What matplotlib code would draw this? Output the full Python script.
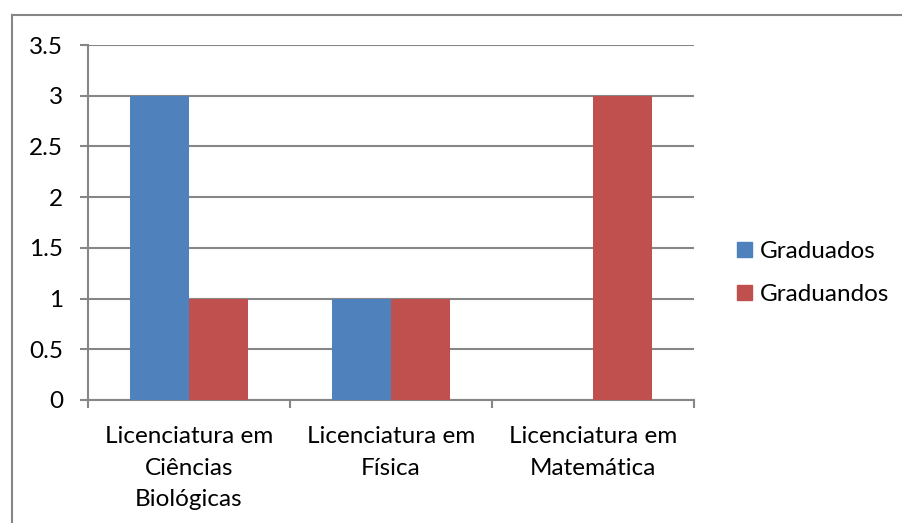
import numpy as np
import matplotlib
matplotlib.use("Agg")
from matplotlib import pyplot as plt
from matplotlib.lines import Line2D
from matplotlib.patches import Patch

categorias = ["Licenciatura em\nCiências\nBiológicas", "Licenciatura em\nFísica", "Licenciatura em\nMatemática"]
graduados = [3, 1, 0]
graduandos = [1, 1, 3]
series = ["Graduados", "Graduandos"]
yticks = [0, 0.5, 1, 1.5, 2, 2.5, 3, 3.5]
ytick_labels = ["0", "0.5", "1", "1.5", "2", "2.5", "3", "3.5"]

azul = "#4F81BD"
vermelho = "#C0504D"
cinza = "#868686"
fs = 17.5

plt.rcParams['font.family'] = ['Lato', 'DejaVu Sans']

fig = plt.figure(figsize=(9.02, 5.23), dpi=100)
ax = fig.add_axes([88/902, 1-400/523, 606/902, 355/523])

x = np.arange(len(categorias))
w = 0.29
ax.bar(x - w/2, graduados, w, color=azul, zorder=3)
ax.bar(x + w/2, graduandos, w, color=vermelho, zorder=3)

ax.set_xlim(-0.5, 2.5)
ax.set_ylim(0, 3.5)
ax.set_yticks(yticks)
ax.set_yticklabels(ytick_labels)
ax.yaxis.grid(True, color=cinza, linewidth=1.5, zorder=0)
for s in ["top", "right"]:
    ax.spines[s].set_visible(False)
for s in ["left", "bottom"]:
    ax.spines[s].set_color(cinza)
    ax.spines[s].set_linewidth(1.5)
ax.tick_params(axis="y", length=6, width=1.5, color=cinza, labelsize=fs, pad=12)
ax.set_xticks(x)
ax.set_xticklabels(categorias, fontsize=fs, linespacing=1.62)
ax.set_xticks([-0.5, 0.5, 1.5, 2.5], minor=True)
ax.tick_params(axis="x", which="major", length=0, pad=19)
ax.tick_params(axis="x", which="minor", length=6, width=1.5, color=cinza)

# moldura externa
fig.add_artist(Line2D([12/902, 12/902], [0, 1-15/523], color=cinza, linewidth=1.5))
fig.add_artist(Line2D([12/902, 1], [1-15/523, 1-15/523], color=cinza, linewidth=1.5))

handles = [Patch(color=azul), Patch(color=vermelho)]
fig.legend(handles, series, loc="center left", bbox_to_anchor=(737/902, 1-273/523),
           frameon=False, fontsize=fs, handlelength=0.62, handleheight=0.62,
           handletextpad=0.33, labelspacing=0.9, borderpad=0, borderaxespad=0)

fig.savefig("out.png", dpi=100)
